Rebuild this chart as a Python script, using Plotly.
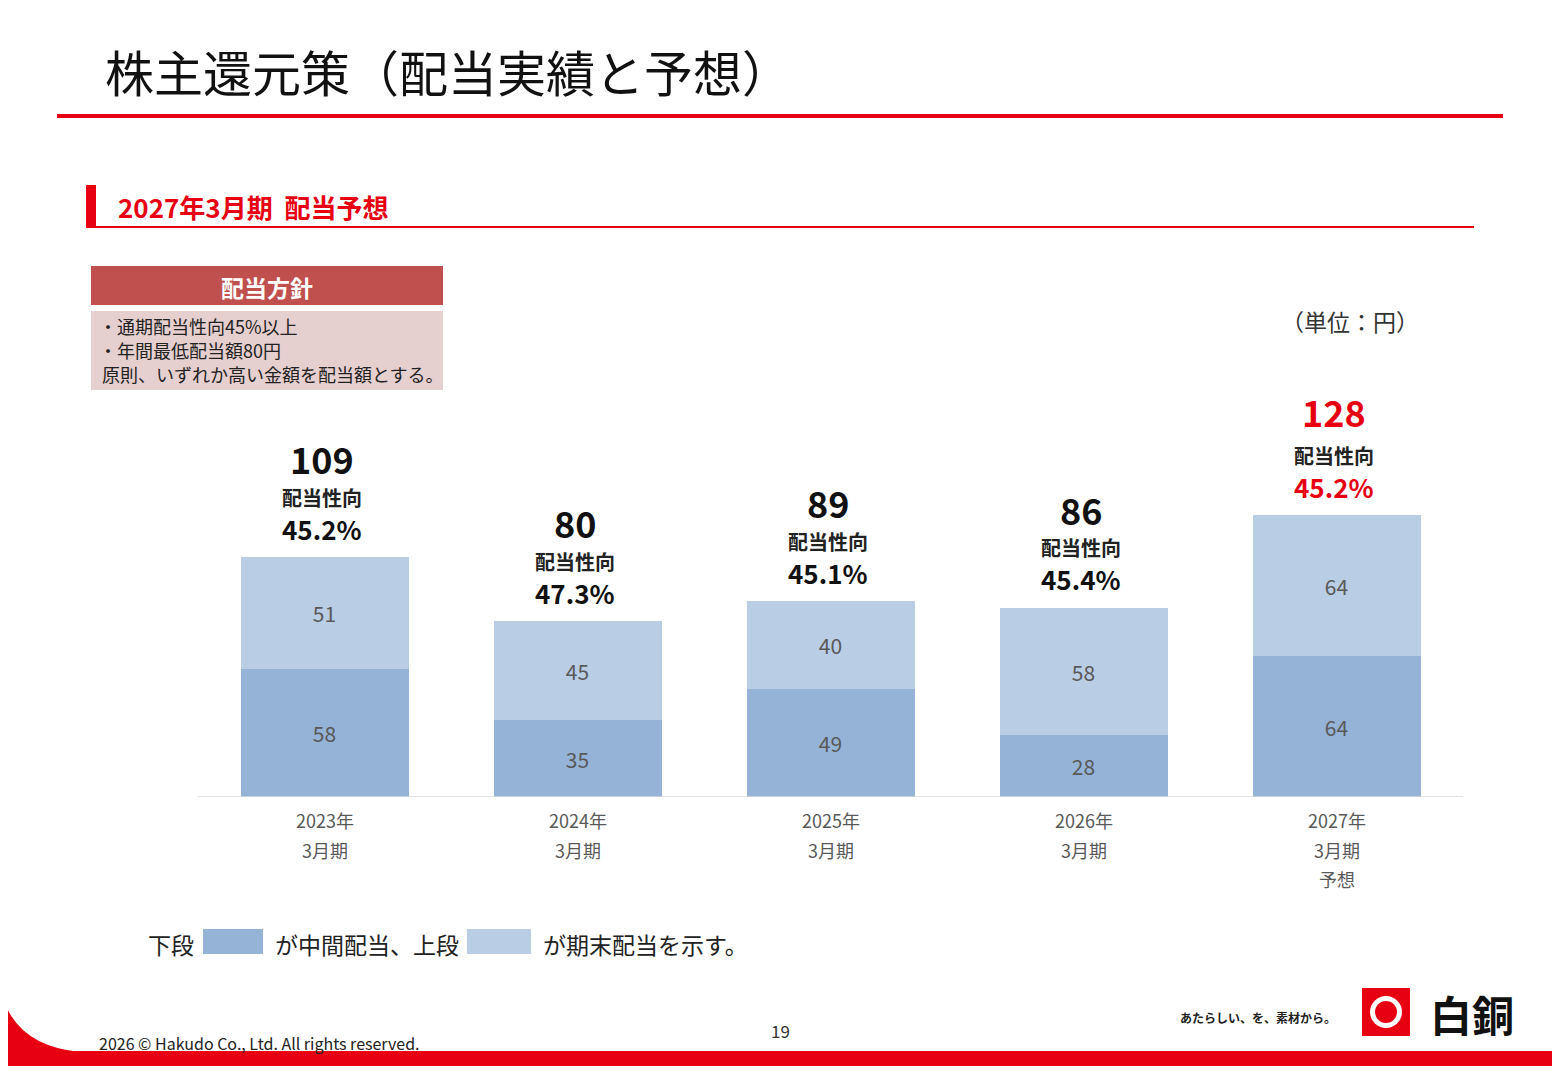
import plotly.graph_objects as go

# data
periods = ["2023年3月期", "2024年3月期", "2025年3月期", "2026年3月期", "2027年3月期予想"]
tick_lines = [["2023年", "3月期"], ["2024年", "3月期"], ["2025年", "3月期"], ["2026年", "3月期"],
              ["2027年", "3月期", "予想"]]
interim = [58, 35, 49, 28, 64]
year_end = [51, 45, 40, 58, 64]
totals = [109, 80, 89, 86, 128]
payout = ["45.2%", "47.3%", "45.1%", "45.4%", "45.2%"]

LOWER = "#95b3d7"
UPPER = "#b9cde5"
RED = "#e60012"
FONT = "Noto Sans CJK JP"

# page offset of the browser (body margin)
OFF = 8
W, H = 1560, 1080
# plot area in reference pixels
L, R_, T, B = 198, 1463, 400, 797


def px(x):
    return (x - L) / (R_ - L)


def py(y):
    return (B - y) / (B - T)


fig = go.Figure()
fig.add_trace(go.Bar(x=periods, y=interim, marker_color=LOWER, marker_line_width=0,
                     text=interim, textposition="inside", insidetextanchor="middle",
                     textfont=dict(size=21, color="#595959", family=FONT)))
fig.add_trace(go.Bar(x=periods, y=year_end, marker_color=UPPER, marker_line_width=0,
                     text=year_end, textposition="inside", insidetextanchor="middle",
                     textfont=dict(size=21, color="#595959", family=FONT)))

ann = []
for i, (p, t, r) in enumerate(zip(periods, totals, payout)):
    last = i == len(periods) - 1
    c = RED if last else "#111111"
    ann.append(dict(x=p, y=t, yref="y", text=f"<b>{t}</b>", showarrow=False, yshift=99 if not last else 104,
                    xshift=-3, font=dict(size=36, color=c, family=FONT)))
    ann.append(dict(x=p, y=t, yref="y", text="<b>配当性向</b>", showarrow=False, yshift=60,
                    xshift=-3, font=dict(size=20, color="#222222", family=FONT)))
    ann.append(dict(x=p, y=t, yref="y", text=f"<b>{r}</b>", showarrow=False, yshift=29,
                    xshift=-3, font=dict(size=26, color=c, family=FONT)))
    for j, s in enumerate(tick_lines[i]):
        ann.append(dict(x=p, y=py(820 + 29.5 * j), yref="paper", yanchor="middle", text=s, showarrow=False,
                        font=dict(size=18, color="#595959", family=FONT)))


def text(x, y, s, size, color="#222222", anchor="left"):
    ann.append(dict(xref="paper", yref="paper", x=px(x), y=py(y), text=s, showarrow=False,
                    xanchor=anchor, yanchor="middle", font=dict(size=size, color=color, family=FONT)))


text(103, 70, "株主還元策（配当実績と予想）", 49, "#111111")
text(116, 206, "<b>2027年3月期  配当予想</b>", 26, RED)
text(267, 287, "<b>配当方針</b>", 23, "white", "center")
text(97, 326, "・通期配当性向45%以上", 18)
text(97, 350, "・年間最低配当額80円", 18)
text(100, 374, "原則、いずれか高い金額を配当額とする。", 18)
text(1350, 321, "（単位：円）", 23, "#333333", "center")
text(146, 944, "下段", 23)
text(273, 944, "が中間配当、上段", 23)
text(541, 944, "が期末配当を示す。", 23)
text(97, 1043, "2026 © Hakudo Co., Ltd. All rights reserved.", 16)
text(780, 1030, "19", 17, "#333333", "center")
text(1258, 1017, "<b>あたらしい、を、素材から。</b>", 12, "#222222", "center")
text(1472, 1013, "<b>白銅</b>", 42, "#111111", "center")


def rect(x0, y0, x1, y1, color):
    return dict(type="rect", xref="paper", yref="paper", x0=px(x0), x1=px(x1), y0=py(y1), y1=py(y0),
                fillcolor=color, line_width=0, layer="below")


shapes = [
    rect(57, 114, 1503, 118, RED),
    rect(86, 185, 96, 228, RED),
    rect(96, 226, 1474, 228, RED),
    rect(91, 266, 443, 305, "#c0504d"),
    rect(91, 311, 443, 390, "#e6cfcf"),
    rect(203, 929, 263, 954, LOWER),
    rect(467, 929, 531, 954, UPPER),
    rect(-10, 1051, 1570, 1066, RED),
    rect(1362, 988, 1410, 1036, RED),
    dict(type="circle", xref="paper", yref="paper", x0=px(1370), x1=px(1402), y0=py(1028), y1=py(996),
         fillcolor="white", line_width=0),
    dict(type="circle", xref="paper", yref="paper", x0=px(1375), x1=px(1397), y0=py(1023), y1=py(1001),
         fillcolor=RED, line_width=0),
    dict(type="path", xref="paper", yref="paper",
         path=f"M {px(-10)},{py(985)} L {px(0)},{py(985)} Q {px(10)},{py(1045)} {px(80)},{py(1052)} "
              f"L {px(-10)},{py(1052)} Z",
         fillcolor=RED, line_width=0),
    dict(type="line", xref="paper", yref="y", x0=0, x1=1, y0=0, y1=0, line=dict(color="#d9d9d9", width=1.5)),
]

fig.update_layout(
    width=W, height=H, barmode="stack", bargap=0.336, showlegend=False,
    margin=dict(l=L - OFF, r=W - R_ + OFF, t=T - OFF, b=H - B + OFF),
    plot_bgcolor="white", paper_bgcolor="white",
    xaxis=dict(showline=False, ticks="", showticklabels=False),
    yaxis=dict(range=[0, (B - T) / 2.2], visible=False),
    annotations=ann, shapes=shapes,
    font=dict(family=FONT),
)

fig.write_html("out.html")
